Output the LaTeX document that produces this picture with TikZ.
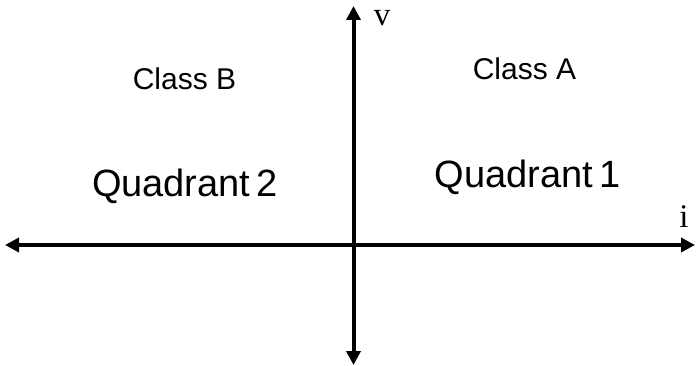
\documentclass[tikz,border=0pt]{standalone}
\usepackage{fontspec}
\setmainfont{Liberation Sans}
\newfontfamily\serifax{Liberation Serif}
\usetikzlibrary{arrows.meta}
\begin{document}
\begin{tikzpicture}[x=1pt,y=-1pt,
  axis/.style={line width=4pt,{Triangle[length=14pt,width=14pt]}-{Triangle[length=14pt,width=14pt]}},
  lab/.style={anchor=base,inner sep=0pt,font=\fontsize{30}{34}\selectfont},
  quad/.style={anchor=base,inner sep=0pt,font=\fontsize{38}{42}\selectfont},
  axlab/.style={anchor=base,inner sep=0pt,font=\serifax\fontsize{33}{36}\selectfont}]
\useasboundingbox (0,0) rectangle (696,366);
\coordinate (L) at (5,245);
\coordinate (R) at (695,245);
\coordinate (T) at (353.5,6);
\coordinate (B) at (353.5,365);
\draw[axis] (L) -- (R);
\draw[axis] (T) -- (B);
\node[axlab] (v) at (382,26) {v};
\node[axlab] (i) at (684,228) {i};
\node[lab] (cb) at (184.5,90) {Class B};
\node[lab] (ca) at (524.5,80) {Class A};
\node[quad] (q2) at (185,197) {Quadrant\,2};
\node[quad] (q1) at (527.5,188) {Quadrant\,1};
\end{tikzpicture}
\end{document}
